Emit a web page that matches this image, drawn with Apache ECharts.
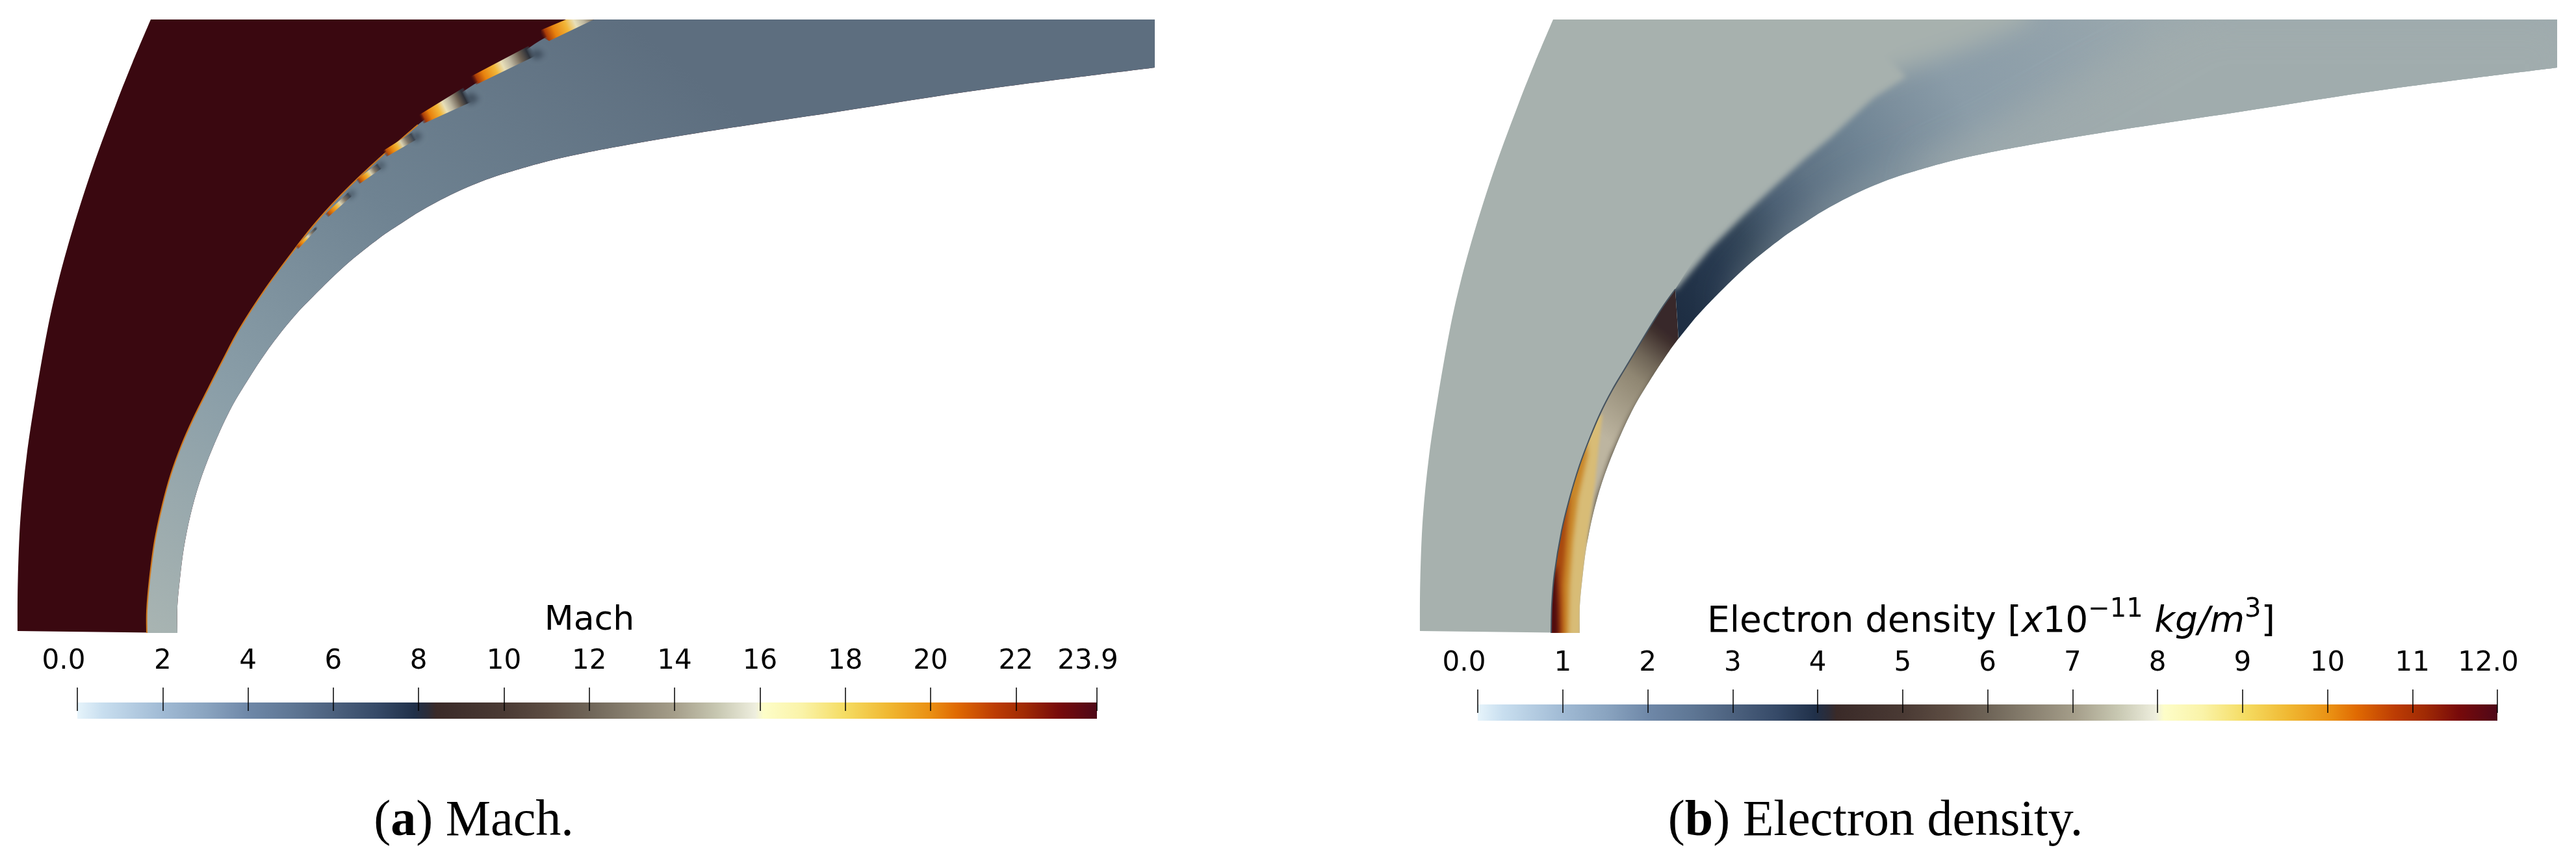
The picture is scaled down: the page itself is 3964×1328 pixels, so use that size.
<!DOCTYPE html>
<html><head><meta charset="utf-8">
<style>html,body{margin:0;padding:0;background:#fff}#c{width:3964px;height:1328px}</style>
<script src="https://cdn.jsdelivr.net/npm/echarts@6/dist/echarts.min.js"></script>
</head><body><div id="c"></div>
<script>
// ---- colour bar data
const machTicks = [0,2,4,6,8,10,12,14,16,18,20,22,23.9];
const machLabels = ['0.0','2','4','6','8','10','12','14','16','18','20','22','23.9'];
const densityTicks = [0,1,2,3,4,5,6,7,8,9,10,11,12];
const densityLabels = ['0.0','1','2','3','4','5','6','7','8','9','10','11','12.0'];
const colormapPositions = [0,0.025,0.084,0.126,0.167,0.209,0.251,0.293,0.331,0.344,0.352,0.418,0.46,0.502,0.586,0.628,0.665,0.673,0.711,0.753,0.795,0.837,0.862,0.9,0.929,0.962,1];
const colormapColors = ['#e6f4fb','#c8deef','#a0bad4','#8aa4c0','#6f88a8','#5f7795','#4c617e','#364a68','#203049','#2c2c38','#3a2a28','#4a3a34','#5c4c42','#6f6558','#a59e8a','#c8c8b2','#eeeede','#fdfdc8','#faf3a8','#f5dc62','#f0b832','#ea8f12','#e06a02','#bc3c04','#a02a04','#780a0a','#4e0818'];

// ---- flow-field outlines (panel-local coordinates)
const outerEdge = [[27,971],[27.5,893],[31.5,797],[41,702],[54.5,612],[72.5,510],[89.5,434],[112.5,351],[143.5,255],[179,159],[204,96],[232,30]];
const topEdge = [[232,30],[1777,30]];
const rightEdge = [[1777,30],[1777,104]];
const bodyEdge = [[273,974],[273,933],[277,890],[283,843],[293,793],[307,743],[327,690],[353,633],[380,587],[413,537],[450,490],[483,455],[533,407],[583,367],[617,344],[657,319],[717,289],[783,265],[887,238],[1059,207],[1289,172],[1518,137],[1777,104]];
const shockEdge = [[226,974],[226,940],[230,893],[238,833],[250,777],[263,730],[279,686],[298,643],[320,599],[344,552],[368,507],[408,445],[450,388],[483,346],[517,308],[550,275],[590,238],[643,192],[717,138],[770,105],[830,63],[873,43],[914,30]];
const streaks = [
 [[871,30],[914,30],[845,63],[831,55],[833,46]],
 [[720,120],[813,71],[828,84],[733,130]],
 [[643,178],[713,135],[727,156],[652,190]],
 [[588,233],[637,202],[642,214],[595,241]],
 [[548,277],[583,250],[589,258],[553,283]],
 [[500,330],[540,292],[541,302],[505,334]],
 [[455,380],[490,345],[488,352],[458,384]]
];
const streakAxes = [[[832,56],[935,10]],[[726,125],[822,78]],[[647,184],[722,146]],[[591,237],[640,208]],[[550,280],[586,254]],[[502,332],[541,297]],[[456,382],[489,349]]];
const streakShades = [
 [[812,82],[828,76],[838,84],[826,92]],
 [[712,150],[726,142],[738,152],[724,162]],
 [[632,210],[642,202],[650,210],[640,219]],
 [[578,254],[587,248],[594,255],[585,262]],
 [[533,300],[542,292],[548,298],[538,307]]
];

const densityShock = [[229,974],[230,930],[234,883],[245,817],[257,768],[272,718],[288,675],[305,635],[323,600],[342,568],[378,508],[400,473],[420,445]];
const wakeEdge = [[420,445],[468,372],[516,320],[564,268],[606,226],[644,186],[700,115],[780,62],[845,30]];
const wakeStops = [[0,'#1e2e43'],[0.103,'#26384e'],[0.171,'#334659'],[0.252,'#4c6074'],[0.328,'#5f7385'],[0.44,'#6f8494'],[0.525,'#7c8f9d'],[0.636,'#8a9ca8'],[0.83,'#92a2ab'],[1,'#9aa8ad']];
const bodySideNear = [[500,440],[560,370],[625,320],[700,272],[790,235],[900,190],[1050,100],[1220,26],[1800,26],[1800,300],[500,500]];
const bodySideFar = [[800,260],[900,210],[1060,125],[1235,26],[1800,26],[1800,300],[800,300]];
const edgeSoftNear = [[420,447],[475,382],[525,332],[575,285],[619,245],[659,212],[726,150],[775,118],[720,60],[610,150],[525,250],[460,320],[400,420]];
const edgeSoftFar = [[700,135],[780,105],[860,78],[930,50],[970,30],[960,-40],[800,-20],[660,70]];
const wedgeEdges = [
 [[308,637],[302,687],[297,740],[289,800],[282,850],[275,917],[273,978],[225,978],[225,700]],
 [[284,677],[285,700],[270,767],[262,833],[257,900],[255,978],[225,978],[225,760]],
 [[258,760],[252,833],[247,900],[248,978],[225,978],[225,820]],
 [[237,867],[240,933],[241,978],[225,978],[225,900]]
];
const wedgeColors = ['#d8bc76','#c98628','#a8480e','#500a0e'];
const bodyShade = [[284,833],[299,767],[322,700],[349,643],[389,577],[395,570],[395,590],[360,645],[334,702],[310,770],[293,835]];
const streakStops = [[0,'rgba(58,8,16,0)'],[0.08,'#a83a08'],[0.2,'#e8820e'],[0.38,'#f2b73a'],[0.5,'#e8dfb8'],[0.62,'#bdb6a0'],[0.78,'#6b5f52'],[0.9,'#2c3038'],[1,'rgba(70,85,100,0)']];
const thinStops = [[0,'rgba(58,8,16,0)'],[0.1,'#b8500c'],[0.25,'#e8860e'],[0.42,'#f0b83a'],[0.55,'#d8d0b0'],[0.72,'#7c7468'],[0.9,'#3c4652'],[1,'rgba(90,105,120,0)']];

function grad(api,a,b,stops){
  const p=api.coord(a),q=api.coord(b);
  return {type:'linear',x:p[0],y:p[1],x2:q[0],y2:q[1],global:true,
    colorStops:stops.map(s=>({offset:s[0],color:s[1]}))};
}
function pts(api,list){return list.map(p=>api.coord(p));}
const f2=v=>v.toFixed(2);
// each curve is drawn through its points with a Catmull-Rom path
function curvesPath(api,curves,closed){
  let d='';
  curves.forEach((c,k)=>{
    const P=pts(api,c);
    d+=(k===0?'M':'L')+f2(P[0][0])+' '+f2(P[0][1])+' ';
    for(let i=0;i<P.length-1;i++){
      const a=P[i-1]||P[i],b=P[i],e=P[i+1],g=P[i+2]||e;
      d+='C'+f2(b[0]+(e[0]-a[0])/6)+' '+f2(b[1]+(e[1]-a[1])/6)+' '+f2(e[0]-(g[0]-b[0])/6)+' '+f2(e[1]-(g[1]-b[1])/6)+' '+f2(e[0])+' '+f2(e[1])+' ';
    }
  });
  return d+(closed?'Z':'');
}
function area(api,curves,fill){return {type:'path',shape:{pathData:curvesPath(api,curves,true)},style:{fill:fill}};}
function areaClip(api,curves){return {type:'path',shape:{pathData:curvesPath(api,curves,true)}};}
function poly(api,list,fill){return {type:'polygon',shape:{points:pts(api,list)},style:{fill:fill}};}
const OFF=6000;
function soft(api,list,color,blur){
  return {type:'polygon',shape:{points:pts(api,list).map(p=>[p[0]-OFF,p[1]])},
    style:{fill:color,shadowColor:color,shadowBlur:blur,shadowOffsetX:OFF,shadowOffsetY:0}};
}
function line(api,list,color,w){return {type:'path',shape:{pathData:curvesPath(api,[list],false)},style:{fill:'none',stroke:color,lineWidth:w}};}

const bodyRev=bodyEdge.slice().reverse();
const domainCurves=[outerEdge,topEdge,rightEdge,bodyRev];

function renderMach(params,api){
  const post=[shockEdge,[shockEdge[shockEdge.length-1],rightEdge[0]],rightEdge,bodyRev];
  const kids=[
    area(api,domainCurves,'#3a0810'),
    area(api,post,grad(api,[240,975],[1000,60],[[0,'#a8b4b2'],[0.3,'#8a9ea8'],[0.61,'#6f8392'],[1,'#5d6e7f']])),
    line(api,shockEdge.slice(0,18),'#d07a20',2)
  ];
  streakShades.forEach(s=>kids.push(soft(api,s,'rgba(35,46,60,0.75)',9)));
  streaks.forEach((s,i)=>kids.push(poly(api,s,grad(api,streakAxes[i][0],streakAxes[i][1],i<3?streakStops:thinStops))));
  return {type:'group',children:kids};
}
function renderDensity(params,api){
  const wakeCurves=[wakeEdge,[wakeEdge[wakeEdge.length-1],rightEdge[0]],rightEdge,bodyRev.slice(0,13),[[425,521]]];
  const brownCurves=[densityShock,[[420,445],[425,521]],bodyEdge.slice(0,10).reverse()];
  const softKids=[
    soft(api,bodySideNear,'rgba(162,173,174,0.55)',40),
    soft(api,bodySideFar,'rgba(162,173,174,0.8)',60),
    soft(api,edgeSoftNear,'#a7b1ae',10),
    soft(api,edgeSoftFar,'#a7b1ae',36)
  ];
  const brownKids=[
    area(api,brownCurves,grad(api,[302,667],[419,520],[[0,'#bdb5a0'],[0.55,'#8f8672'],[0.73,'#6f6557'],[0.94,'#40312e'],[1,'#38282a']])),
    soft(api,bodyShade,'#4a4236',8)
  ];
  wedgeEdges.forEach((w,i)=>brownKids.push(soft(api,w,wedgeColors[i],i===0?4:7)));
  return {type:'group',children:[
    area(api,domainCurves,'#a7b1ae'),
    area(api,wakeCurves,grad(api,[424,480],[1150,30],wakeStops)),
    {type:'group',clipPath:areaClip(api,domainCurves),children:softKids},
    {type:'group',clipPath:areaClip(api,brownCurves),children:brownKids},
    line(api,densityShock,'#45525e',2)
  ]};
}
function renderBar(max){
  return function(params,api){
    const a=api.coord([0,23]),b=api.coord([max,48]);
    return {type:'rect',shape:{x:a[0],y:a[1],width:b[0]-a[0],height:b[1]-a[1]},
      style:{fill:{type:'linear',x:0,y:0,x2:1,y2:0,
        colorStops:colormapPositions.map((o,i)=>({offset:o,color:colormapColors[i]}))}}};
  };
}
function hiddenAxis(i,max,inv){return {type:'value',gridIndex:i,min:0,max:max,inverse:!!inv,show:false};}
function barAxis(i,ticks,labels,max){
  return {type:'value',gridIndex:i,position:'top',min:0,max:max,z:5,
    axisLine:{show:false},splitLine:{show:false},
    axisTick:{show:true,inside:true,length:36,customValues:ticks,lineStyle:{color:'#000',width:1.5}},
    axisLabel:{show:true,margin:19,customValues:ticks,hideOverlap:false,showMinLabel:true,showMaxLabel:true,
      fontFamily:'DejaVu Sans',fontSize:42,color:'#000',
      formatter:function(v){
        const k=ticks.indexOf(v);const t=labels[k];
        if(k===0) return '{f|'+t+'}';
        if(k===ticks.length-1) return '{l|'+t+'}';
        return t;
      },
      rich:{f:{fontFamily:'DejaVu Sans',fontSize:42,color:'#000',padding:[0,42,0,0]},
            l:{fontFamily:'DejaVu Sans',fontSize:42,color:'#000',padding:[0,28,0,0]}}}};
}
const ttl={fontFamily:'DejaVu Sans',fontSize:52,color:'#000',fontWeight:'normal'};
const ttlB={fontFamily:'DejaVu Sans',fontSize:55,color:'#000',fontWeight:'normal'};
const cap={fontFamily:'Liberation Serif',fontSize:78,color:'#000',fontWeight:'normal'};
const option={
  animation:false,backgroundColor:'#fff',
  grid:[
    {left:0,top:0,width:1800,height:1000},
    {left:2158,top:0,width:1800,height:1000},
    {left:119,top:1058,width:1569,height:48},
    {left:2274,top:1061,width:1569,height:48}
  ],
  xAxis:[hiddenAxis(0,1800),hiddenAxis(1,1800),barAxis(2,machTicks,machLabels,23.9),barAxis(3,densityTicks,densityLabels,12)],
  yAxis:[hiddenAxis(0,1000,true),hiddenAxis(1,1000,true),hiddenAxis(2,48,true),hiddenAxis(3,48,true)],
  title:[
    {text:'Mach',left:907,top:929,padding:0,textAlign:'center',textStyle:{...ttl}},
    {text:'{n|Electron density [}{i|x}{n|10}{s|\u221211}{n| }{i|kg/m}{s|3}{n|]}',left:3064,top:919,padding:0,textAlign:'center',
      textStyle:{...ttlB,rich:{
        n:{...ttlB,lineHeight:66,verticalAlign:'bottom'},
        i:{...ttlB,fontStyle:'italic',lineHeight:66,verticalAlign:'bottom'},
        s:{...ttlB,fontSize:40,lineHeight:40,verticalAlign:'top'}}}},
    {text:'({b|a}) Mach.',left:729,top:1226,padding:0,textAlign:'center',
      textStyle:{...cap,rich:{b:{...cap,fontWeight:'bold'}}}},
    {text:'({b|b}) Electron density.',left:2886,top:1226,padding:0,textAlign:'center',
      textStyle:{...cap,rich:{b:{...cap,fontWeight:'bold'}}}}
  ],
  series:[
    {type:'custom',xAxisIndex:0,yAxisIndex:0,data:[[0,0]],renderItem:renderMach,silent:true},
    {type:'custom',xAxisIndex:1,yAxisIndex:1,data:[[0,0]],renderItem:renderDensity,silent:true},
    {type:'custom',xAxisIndex:2,yAxisIndex:2,data:[[0,0]],renderItem:renderBar(23.9),silent:true},
    {type:'custom',xAxisIndex:3,yAxisIndex:3,data:[[0,0]],renderItem:renderBar(12),silent:true}
  ]
};
const chart=echarts.init(document.getElementById('c'),null,{renderer:'canvas',width:3964,height:1328});
chart.setOption(option);
</script></body></html>
